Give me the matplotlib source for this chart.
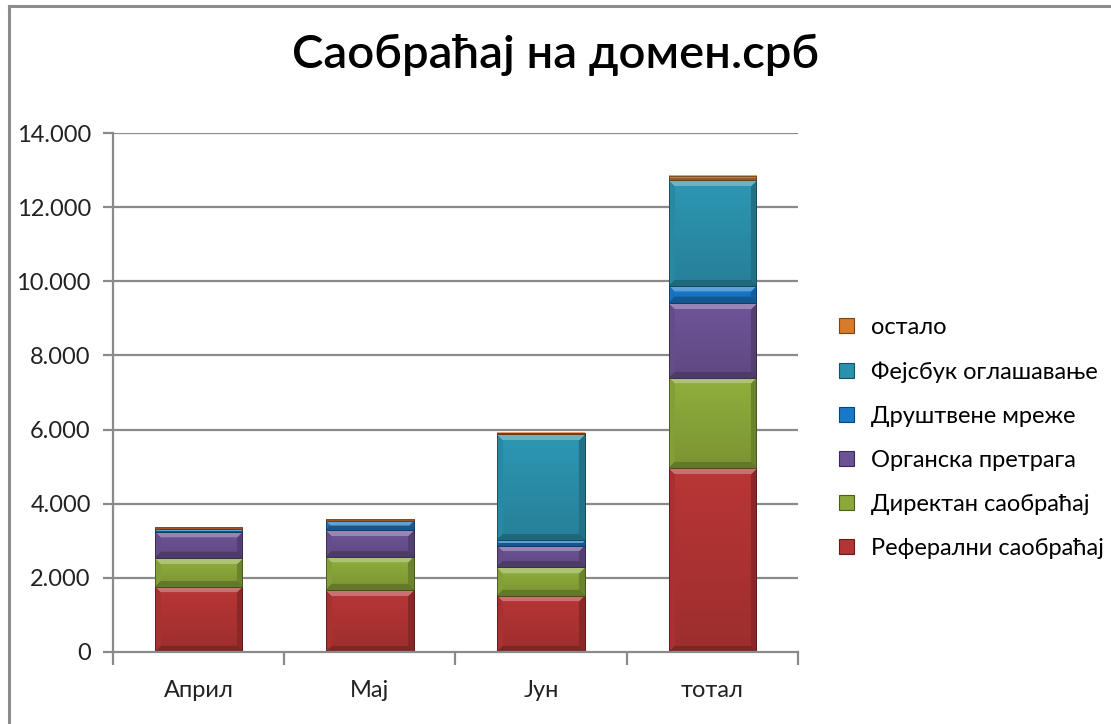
import numpy as np
import matplotlib
matplotlib.use("Agg")
import matplotlib.pyplot as plt
from matplotlib.patches import Rectangle
from matplotlib.lines import Line2D
import matplotlib.colors as mcolors

plt.rcParams['font.family'] = ['Lato', 'DejaVu Sans']

categories = ["Април", "Мај", "Јун", "тотал"]
series_names = ["Реферални саобраћај", "Директан саобраћај", "Органска претрага",
                "Друштвене мреже", "Фејсбук оглашавање", "остало"]
referral = [1760, 1670, 1520, 4950]
direct = [780, 900, 760, 2440]
organic = [710, 720, 590, 2020]
social = [70, 250, 150, 470]
facebook = [0, 0, 2850, 2850]
other = [40, 40, 40, 120]
series_values = [referral, direct, organic, social, facebook, other]
colors = ["#B23434", "#8BA83A", "#6B5293", "#1979C9", "#2C91AD", "#D97A2A"]
yticks = [0, 2000, 4000, 6000, 8000, 10000, 12000, 14000]
ytick_labels = ["0", "2.000", "4.000", "6.000", "8.000", "10.000", "12.000", "14.000"]

W, H = 1111, 724
fig = plt.figure(figsize=(W / 100, H / 100), dpi=100)
fig.patch.set_facecolor("white")

# chart border (only left & top visible)
fig.add_artist(Line2D([9 / W, 9 / W], [0, 1 - 6 / H], color="#8c8c8c", lw=2.2, transform=fig.transFigure))
fig.add_artist(Line2D([9 / W, 1], [1 - 6 / H, 1 - 6 / H], color="#8c8c8c", lw=2.2, transform=fig.transFigure))

ax = fig.add_axes([113 / W, 72 / H, 685 / W, 519 / H])
ax.set_xlim(-0.5, len(categories) - 0.5)
ax.set_ylim(0, 14000)

x = np.arange(len(categories))
bw = 0.51
bottoms = np.zeros(len(categories))
rects = []
for vals, col, name in zip(series_values, colors, series_names):
    vals = np.array(vals, dtype=float)
    ax.bar(x, vals, bw, bottom=bottoms, color=col,
           edgecolor=mcolors.to_hex(np.array(mcolors.to_rgb(col)) * 0.55),
           linewidth=0.6, zorder=3, label=name)
    for xi, b, v in zip(x, bottoms, vals):
        if v > 0:
            rects.append((xi, b, v, col))
    bottoms += vals

for yt in yticks[1:]:
    ax.axhline(yt, color="#8a8a8a", lw=1.6, zorder=1)

# bevel shading
fig.canvas.draw()
for xi, b, v, col in rects:
    x0, x1 = xi - bw / 2, xi + bw / 2
    p0 = ax.transData.transform((x0, b))
    p1 = ax.transData.transform((x1, b + v))
    wpx = max(int(round(p1[0] - p0[0])), 2)
    hpx = max(int(round(p1[1] - p0[1])), 2)
    base = np.array(mcolors.to_rgb(col))
    img = np.zeros((hpx, wpx, 4))
    yy, xx = np.mgrid[0:hpx, 0:wpx]
    bev = 6.0
    dt = yy
    db = hpx - 1 - yy
    dl = xx
    dr = wpx - 1 - xx
    t = yy / max(hpx - 1, 1)
    factor = 1.04 - 0.16 * t
    rgb = np.clip(base[None, None, :] * factor[..., None], 0, 1)
    dmin = np.minimum(np.minimum(dt, db), np.minimum(dl, dr))
    edge = dmin < bev
    which_top = (dt == dmin) & edge
    which_bot = (db == dmin) & edge & ~which_top
    which_left = (dl == dmin) & edge & ~which_top & ~which_bot
    which_right = (dr == dmin) & edge & ~which_top & ~which_bot & ~which_left
    light = np.clip(base + (1 - base) * 0.3, 0, 1)
    rgb[which_top] = light
    rgb[which_left] = np.clip(base * 0.95, 0, 1)
    rgb[which_bot] = base * 0.72
    rgb[which_right] = base * 0.78
    img[..., :3] = rgb
    img[..., 3] = 1.0
    ax.imshow(img, extent=(x0, x1, b, b + v), aspect="auto", zorder=4, interpolation="bilinear", origin="upper")
    ax.add_patch(Rectangle((x0, b), bw, v, fill=False, edgecolor=tuple(base * 0.5), lw=0.6, zorder=5))

ax.set_xlim(-0.5, len(categories) - 0.5)
ax.set_ylim(0, 14000)

for s in ["top", "right"]:
    ax.spines[s].set_visible(False)
for s in ["left", "bottom"]:
    ax.spines[s].set_color("#8a8a8a")
    ax.spines[s].set_linewidth(1.6)
    ax.spines[s].set_zorder(6)

ax.set_yticks(yticks)
ax.set_yticklabels(ytick_labels, fontsize=17, color="#222222")
ax.tick_params(axis="y", length=7, width=1.6, color="#8a8a8a", pad=9)
ax.set_xticks(x)
ax.set_xticklabels(categories, fontsize=17, color="#222222")
ax.tick_params(axis="x", length=0, pad=20)
ax.set_xticks(np.arange(-0.5, len(categories)), minor=True)
ax.tick_params(axis="x", which="minor", length=9, width=1.6, color="#8a8a8a")

fig.text(0.5, 1 - 55 / H, "Саобраћај на домен.срб", ha="center", va="center", fontsize=34,
         fontweight="semibold", color="black")

handles = [Rectangle((0, 0), 1, 1, facecolor=c, edgecolor=tuple(np.array(mcolors.to_rgb(c)) * 0.55), lw=0.8)
           for c in colors]
fig.legend(handles[::-1], series_names[::-1], loc="center left", bbox_to_anchor=(830 / W, 1 - 438 / H),
           frameon=False, fontsize=17, handlelength=0.6, handleheight=0.6, labelspacing=0.98,
           handletextpad=0.75, borderaxespad=0)

fig.savefig("out.png", dpi=100, facecolor="white")
